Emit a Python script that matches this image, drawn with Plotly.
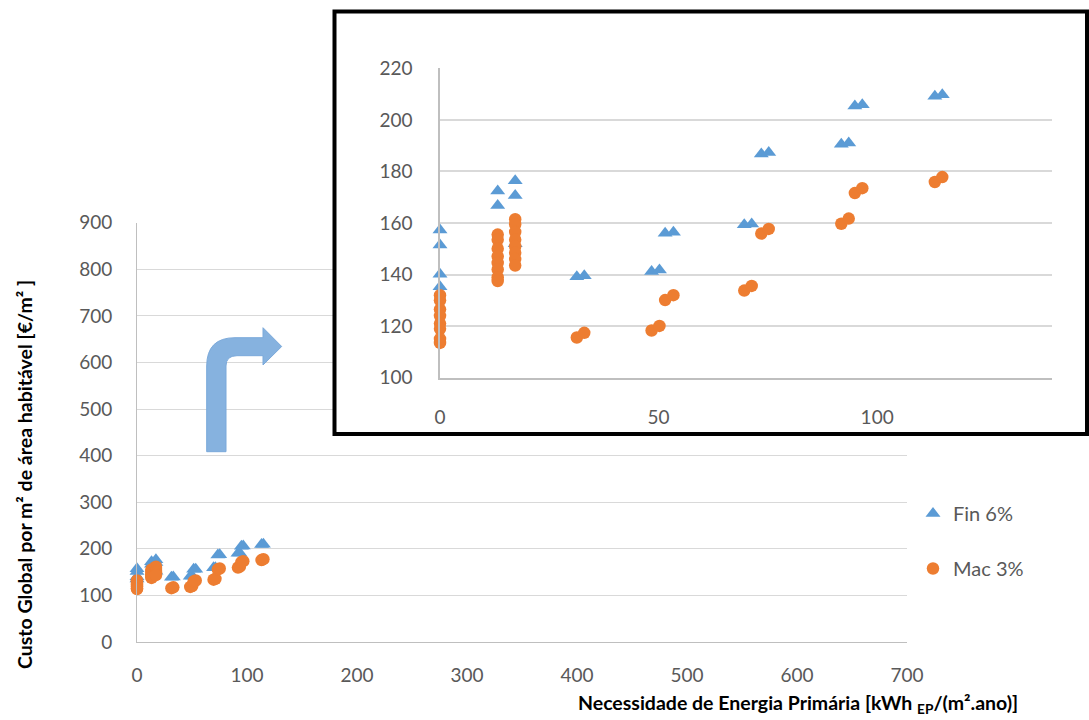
import plotly.graph_objects as go

W, H = 1089, 720

# ---- data ----
fin_x = [0, 0, 0, 0,
         13.2, 13.2,
         17.2, 17.2, 17.2,
         31.3, 33.0, 48.4, 50.2, 51.5, 53.4,
         69.6, 71.3, 73.5, 75.2, 91.8, 93.5, 94.9, 96.6, 113.2, 114.9]
fin_y = [157.3, 151.5, 140.1, 135.3,
         172.4, 166.8,
         176.4, 170.7, 152.0,
         139.2, 139.5, 141.2, 141.8, 156.0, 156.4,
         159.3, 159.6, 186.8, 187.3, 190.5, 191.0, 205.4, 205.9, 209.2, 209.7]

mac_x = [0, 0, 0, 0, 0, 0, 0, 0,
         13.2, 13.2, 13.2, 13.2, 13.2, 13.2, 13.2, 13.2,
         17.2, 17.2, 17.2, 17.2, 17.2, 17.2, 17.2, 17.2,
         31.3, 33.0, 48.4, 50.2, 51.5, 53.4,
         69.6, 71.3, 73.5, 75.2, 91.8, 93.5, 94.9, 96.6, 113.2, 114.9]
mac_y = [132.0, 130.0, 126.5, 124.0, 121.0, 119.0, 115.0, 113.5,
         155.5, 153.5, 150.0, 147.0, 144.5, 142.0, 139.0, 137.5,
         161.5, 159.5, 156.5, 153.5, 151.0, 148.5, 146.0, 143.5,
         115.6, 117.4, 118.3, 120.1, 130.1, 132.0,
         133.8, 135.6, 155.9, 157.7, 159.7, 161.7, 171.6, 173.5, 175.9, 177.8]

series_names = ["Fin 6%", "Mac 3%"]
main_x_ticks = [0, 100, 200, 300, 400, 500, 600, 700]
main_y_ticks = [0, 100, 200, 300, 400, 500, 600, 700, 800, 900]
inset_x_ticks = [0, 50, 100]
inset_y_ticks = [100, 120, 140, 160, 180, 200, 220]

y_title = "Custo Global por m² de área habitável [€/m² ]"
x_title = "Necessidade de Energia Primária [kWh <sub>EP</sub>/(m².ano)]"

# ---- style ----
BLUE = "#5B9BD5"
ORANGE = "#ED7D31"
GRID = "#D9D9D9"
AXLINE = "#BFBFBF"
TICK = "#595959"
FONT = "Lato, 'Open Sans', sans-serif"


def px(x):
    return x / W


def py(y):
    return 1 - y / H


fig = go.Figure()

# main chart
fig.add_trace(go.Scatter(x=fin_x, y=fin_y, mode="markers", name=series_names[0],
                         legendgroup="fin", cliponaxis=False,
                         marker=dict(symbol="triangle-up", size=13, color=BLUE),
                         xaxis="x", yaxis="y"))
fig.add_trace(go.Scatter(x=mac_x, y=mac_y, mode="markers", name=series_names[1],
                         legendgroup="mac", cliponaxis=False,
                         marker=dict(symbol="circle", size=12.5, color=ORANGE),
                         xaxis="x", yaxis="y"))

# white cover subplot (inset box background)
fig.add_trace(go.Scatter(x=[None], y=[None], mode="markers", showlegend=False,
                         hoverinfo="skip", xaxis="x2", yaxis="y2"))

# inset chart
fig.add_trace(go.Scatter(x=fin_x, y=fin_y, mode="markers", name=series_names[0],
                         showlegend=False, cliponaxis=False,
                         marker=dict(symbol="triangle-up", size=13, color=BLUE),
                         xaxis="x3", yaxis="y3"))
fig.add_trace(go.Scatter(x=mac_x, y=mac_y, mode="markers", name=series_names[1],
                         showlegend=False, cliponaxis=False,
                         marker=dict(symbol="circle", size=12.5, color=ORANGE),
                         xaxis="x3", yaxis="y3"))

tickfont = dict(family=FONT, size=19, color=TICK)

fig.update_layout(
    template="none",
    width=W, height=H,
    margin=dict(l=0, r=0, t=0, b=0, autoexpand=False),
    paper_bgcolor="white", plot_bgcolor="white",
    font=dict(family=FONT, color=TICK),
    xaxis=dict(domain=[px(137), px(907)], range=[0, 700], tickvals=main_x_ticks,
               showgrid=False, zeroline=False, showline=True, linecolor=AXLINE,
               linewidth=1, ticks="", tickfont=tickfont, ticklabelstandoff=16,
               anchor="y", automargin=False),
    yaxis=dict(domain=[py(642), py(222.7)], range=[0, 900], tickvals=main_y_ticks,
               showgrid=True, gridcolor=GRID, gridwidth=1, zeroline=False,
               showline=True, linecolor=AXLINE, linewidth=1, ticks="",
               tickfont=tickfont, ticklabelstandoff=20, anchor="x", automargin=False),
    xaxis2=dict(domain=[px(334), 1.0], range=[0, 1], showgrid=False, zeroline=False,
                showline=False, showticklabels=False, ticks="", anchor="y2",
                automargin=False),
    yaxis2=dict(domain=[py(434), py(12)], range=[0, 1], showgrid=False, zeroline=False,
                showline=False, showticklabels=False, ticks="", anchor="x2",
                automargin=False),
    xaxis3=dict(domain=[px(440), px(1052)], range=[0, 140], tickvals=inset_x_ticks,
                showgrid=False, zeroline=False, showline=True, linecolor=AXLINE,
                linewidth=1.5, ticks="", tickfont=tickfont, ticklabelstandoff=22,
                anchor="y3", automargin=False),
    yaxis3=dict(domain=[py(377.7), py(68.3)], range=[100, 220], tickvals=inset_y_ticks,
                showgrid=True, gridcolor=GRID, gridwidth=1.5, zeroline=False,
                showline=True, linecolor=AXLINE, linewidth=1.5, ticks="",
                tickfont=tickfont, ticklabelstandoff=22, anchor="x3", automargin=False),
    legend=dict(x=px(913), y=py(494), xanchor="left", yanchor="top",
                font=dict(family=FONT, size=20, color=TICK),
                traceorder="grouped", tracegroupgap=26,
                bgcolor="rgba(0,0,0,0)", borderwidth=0),
    showlegend=True,
    hovermode="closest",
)

# axis titles
fig.add_annotation(text="<b>" + y_title + "</b>", xref="paper", yref="paper",
                   x=px(24), y=py(475), xanchor="center", yanchor="middle",
                   textangle=-90, showarrow=False,
                   font=dict(family=FONT, size=19.5, color="black"))
fig.add_annotation(text="<b>" + x_title + "</b>", xref="paper", yref="paper",
                   x=px(798), y=py(704), xanchor="center", yanchor="middle",
                   showarrow=False,
                   font=dict(family=FONT, size=19.5, color="black"))

# inset border
fig.add_shape(type="rect", xref="paper", yref="paper",
              x0=px(334.5), x1=px(1087), y0=py(434), y1=py(11.5),
              line=dict(color="black", width=4), fillcolor="rgba(0,0,0,0)",
              layer="above")

# bent arrow (decoration)
pts = [("M", 206.7, 451.7), ("L", 206.7, 366), ("Q", 206.7, 337.7, 235, 337.7),
       ("L", 263, 337.7), ("L", 263, 327.7), ("L", 281.7, 346.5), ("L", 263, 365),
       ("L", 263, 355.7), ("L", 237, 355.7), ("Q", 226, 355.7, 226, 366),
       ("L", 226, 451.7)]
path = ""
for p in pts:
    cmd = p[0]
    coords = p[1:]
    s = []
    for i in range(0, len(coords), 2):
        s.append(f"{px(coords[i]):.5f},{py(coords[i + 1]):.5f}")
    path += cmd + " " + " ".join(s) + " "
path += "Z"
fig.add_shape(type="path", xref="paper", yref="paper", path=path,
              fillcolor="#86B2DF", line=dict(color="#7BA9DA", width=1), layer="above")

fig.write_html("out.html")
